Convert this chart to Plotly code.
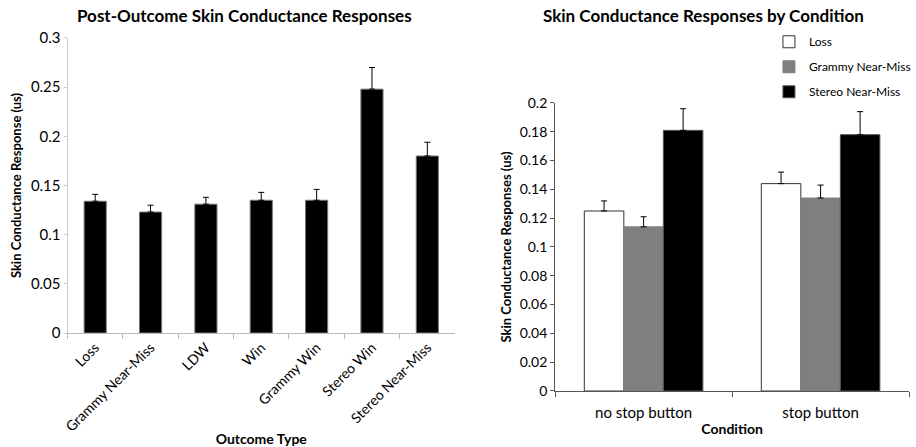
import plotly.graph_objects as go

# Left chart data
outcomes = ["Loss", "Grammy Near-Miss", "LDW", "Win", "Grammy Win", "Stereo Win", "Stereo Near-Miss"]
outcome_scr = [0.134, 0.123, 0.131, 0.135, 0.135, 0.248, 0.180]
outcome_err = [0.007, 0.007, 0.007, 0.008, 0.011, 0.022, 0.014]

# Right chart data
conditions = ["no stop button", "stop button"]
loss_scr = [0.125, 0.144]
loss_err = [0.007, 0.008]
grammy_nm_scr = [0.114, 0.134]
grammy_nm_err = [0.007, 0.009]
stereo_nm_scr = [0.181, 0.178]
stereo_nm_err = [0.015, 0.016]

FONT = "Lato"
W, H = 916, 447
fig = go.Figure()

fig.add_trace(go.Bar(
    x=outcomes, y=outcome_scr, xaxis="x", yaxis="y", width=0.4,
    marker=dict(color="black", line=dict(color="#777777", width=1)),
    error_y=dict(type="data", symmetric=False, array=outcome_err,
                 arrayminus=[0] * len(outcome_err), color="black", thickness=1, width=3),
    showlegend=False,
))

series = [
    ("Loss", loss_scr, loss_err, "white", "#333333"),
    ("Grammy Near-Miss", grammy_nm_scr, grammy_nm_err, "#7f7f7f", "#7f7f7f"),
    ("Stereo Near-Miss", stereo_nm_scr, stereo_nm_err, "black", "#555555"),
]
for name, vals, errs, fill, line in series:
    fig.add_trace(go.Bar(
        x=conditions, y=vals, name=name, xaxis="x2", yaxis="y2", legendgroup=name,
        marker=dict(color=fill, line=dict(color=line, width=1)),
        error_y=dict(type="data", symmetric=False, array=errs,
                     arrayminus=[0] * len(errs), color="black", thickness=1, width=3),
    ))

fig.update_layout(
    width=W, height=H,
    margin=dict(l=0, r=0, t=0, b=0),
    paper_bgcolor="white", plot_bgcolor="white",
    font=dict(family=FONT, size=13, color="black"),
    barmode="group",
    bargap=0.33, bargroupgap=0,
    showlegend=True,
    legend=dict(x=0.845, y=0.939, xanchor="left", yanchor="top",
                font=dict(family=FONT, size=12), tracegroupgap=6,
                itemwidth=30, bgcolor="rgba(0,0,0,0)"),
    xaxis=dict(domain=[0.0742, 0.5], anchor="y", type="category", automargin=False,
               showline=True, linecolor="#bbbbbb", linewidth=1,
               ticks="outside", tickson="boundaries", ticklen=5, tickcolor="#bbbbbb",
               tickangle=-45, tickfont=dict(size=14),
               title=dict(text="<b>Outcome Type</b>", font=dict(size=14), standoff=5)),
    yaxis=dict(domain=[0.255, 0.915], anchor="x", range=[0, 0.3], automargin=False,
               tickvals=[0, 0.05, 0.1, 0.15, 0.2, 0.25, 0.3],
               ticktext=["0", "0.05", "0.1", "0.15", "0.2", "0.25", "0.3"],
               showline=True, linecolor="#cccccc", linewidth=1,
               ticks="outside", ticklen=3, tickcolor="#cccccc",
               showgrid=False, zeroline=False, tickfont=dict(size=15),
               title=dict(text="<b>Skin Conductance Response (us)</b>", font=dict(size=13), standoff=6)),
    xaxis2=dict(domain=[0.610, 0.999], anchor="y2", type="category", automargin=False,
                showline=True, linecolor="#555555", linewidth=1,
                ticks="outside", tickson="boundaries", ticklen=5, tickcolor="#555555",
                tickfont=dict(size=15), ticklabelstandoff=8,
                title=dict(text="<b>Condition</b>", font=dict(size=14), standoff=4)),
    yaxis2=dict(domain=[0.1253, 0.7696], anchor="x2", range=[0, 0.2], automargin=False,
                tickvals=[0, 0.02, 0.04, 0.06, 0.08, 0.1, 0.12, 0.14, 0.16, 0.18, 0.2],
                ticktext=["0", "0.02", "0.04", "0.06", "0.08", "0.1", "0.12", "0.14", "0.16", "0.18", "0.2"],
                showline=True, linecolor="#555555", linewidth=1,
                ticks="outside", ticklen=4, tickcolor="#555555",
                showgrid=False, zeroline=False, tickfont=dict(size=14),
                title=dict(text="<b>Skin Conductance Responses (us)</b>", font=dict(size=13), standoff=5)),
    annotations=[
        dict(text="<b>Post-Outcome Skin Conductance Responses</b>", x=246 / W, y=1 - 16 / H,
             xref="paper", yref="paper", xanchor="center", yanchor="middle",
             showarrow=False, font=dict(size=17)),
        dict(text="<b>Skin Conductance Responses by Condition</b>", x=708 / W, y=1 - 16 / H,
             xref="paper", yref="paper", xanchor="center", yanchor="middle",
             showarrow=False, font=dict(size=17)),
    ],
)

fig.write_html("out.html")
